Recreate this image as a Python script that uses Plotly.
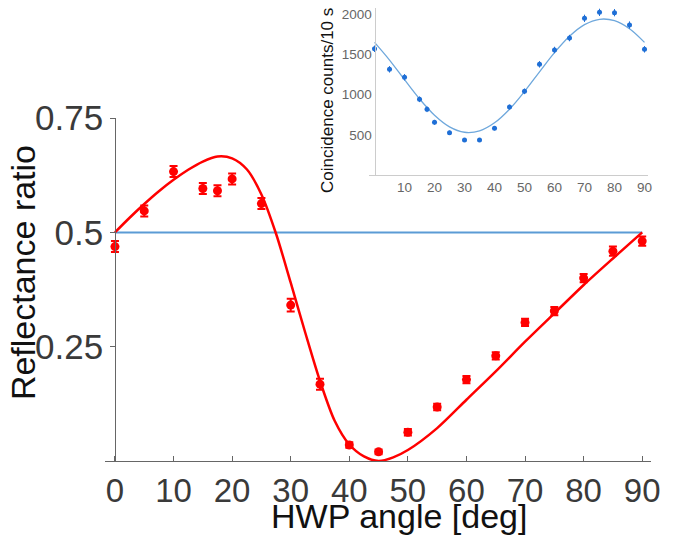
import plotly.graph_objects as go

# datos principales: razón de reflectancia vs ángulo de la HWP
hwp_angle = [0, 5, 10, 15, 17.5, 20, 25, 30, 35, 40, 45, 50, 55, 60, 65, 70, 75, 80, 85, 90]
refl_ratio = [0.469, 0.547, 0.633, 0.596, 0.591, 0.617, 0.563, 0.341, 0.168, 0.035,
              0.020, 0.063, 0.118, 0.178, 0.230, 0.303, 0.328, 0.400, 0.459, 0.481]
refl_err = [0.012, 0.012, 0.012, 0.012, 0.012, 0.012, 0.012, 0.014, 0.012, 0.006,
            0.005, 0.007, 0.007, 0.008, 0.008, 0.008, 0.009, 0.009, 0.010, 0.010]

# curva teórica
fit_angle = [0, 2.5, 5, 7.5, 10, 12.5, 15, 17.5, 20, 22.5, 25, 27.5, 30, 32.5, 35, 37.5,
             40, 42.5, 45, 47.5, 50, 55, 60, 65, 70, 75, 80, 85, 90]
fit_ratio = [0.5, 0.532, 0.562, 0.59, 0.615, 0.637, 0.655, 0.666, 0.662, 0.638, 0.583,
             0.497, 0.39, 0.28, 0.175, 0.088, 0.036, 0.01, 0.0, 0.008, 0.024, 0.072,
             0.134, 0.196, 0.261, 0.323, 0.385, 0.443, 0.5]

ref_angle = [0, 90]
ref_ratio = [0.5, 0.5]

# recuadro: cuentas de coincidencia
ins_angle = [0, 5, 10, 15, 17.5, 20, 25, 30, 35, 40, 45, 50, 55, 60, 65, 70, 75, 80, 85, 90]
ins_counts = [1570, 1315, 1216, 943, 819, 657, 529, 438, 438, 583,
              847, 1042, 1377, 1555, 1703, 1948, 2022, 2018, 1865, 1563]
ins_err = [40, 40, 40, 35, 35, 30, 25, 20, 20, 25, 30, 35, 40, 40, 40, 45, 45, 45, 45, 40]

ins_fit_angle = [0, 5, 10, 15, 20, 25, 30, 35, 40, 45, 50, 55, 60, 65, 70, 75, 80, 85, 90]
ins_fit_counts = [1649, 1430, 1186, 948, 745, 601, 534, 551, 651, 820,
                  1040, 1284, 1522, 1725, 1869, 1936, 1919, 1819, 1649]

RED = "#ff0000"
BLUE = "#1f6fd6"

fig = go.Figure()

fig.add_trace(go.Scatter(x=ref_angle, y=ref_ratio, mode="lines",
                         line=dict(color="#5b9bd5", width=2), hoverinfo="skip"))
fig.add_trace(go.Scatter(x=fit_angle, y=fit_ratio, mode="lines",
                         line=dict(color=RED, width=2.5, shape="spline", smoothing=0.8)))
fig.add_trace(go.Scatter(x=hwp_angle, y=refl_ratio, mode="markers",
                         marker=dict(color=RED, size=9),
                         error_y=dict(type="data", array=refl_err, color=RED,
                                      thickness=2, width=4)))

fig.add_trace(go.Scatter(x=ins_fit_angle, y=ins_fit_counts, mode="lines",
                         line=dict(color="#6fa8dc", width=1.3, shape="spline"),
                         xaxis="x2", yaxis="y2"))
fig.add_trace(go.Scatter(x=ins_angle, y=ins_counts, mode="markers",
                         marker=dict(color=BLUE, size=5),
                         error_y=dict(type="data", array=ins_err, color=BLUE,
                                      thickness=1, width=0),
                         xaxis="x2", yaxis="y2"))

# la página añade 8 px de margen: la figura se hace algo menor para que no salgan barras
fig.update_layout(
    width=667, height=528,
    margin=dict(l=97, r=24, t=0, b=75),
    paper_bgcolor="white", plot_bgcolor="rgba(0,0,0,0)",
    showlegend=False,
    font=dict(family="Liberation Sans, Arial, sans-serif", color="#333333"),
    xaxis=dict(
        domain=[0, 1], range=[-1.7, 91.5], anchor="y", automargin=False,
        tickvals=[0, 10, 20, 30, 40, 50, 60, 70, 80, 90],
        tickfont=dict(size=33, color="#3a3a3a"),
        ticks="inside", ticklen=5, tickcolor="#666666",
        showline=True, linecolor="#666666", linewidth=1,
        showgrid=False, zeroline=False,
    ),
    yaxis=dict(
        domain=[0, 0.757], range=[0, 0.75], anchor="free", position=0.0187,
        automargin=False,
        tickvals=[0.25, 0.5, 0.75], ticktext=["0.25", "0.5", "0.75"],
        tickfont=dict(size=35, color="#3a3a3a"),
        ticks="outside", ticklen=5, tickcolor="#666666",
        showline=True, linecolor="#666666", linewidth=1,
        showgrid=False, zeroline=False,
    ),
    xaxis2=dict(
        domain=[0.4843, 0.9936], range=[-1.7, 91], anchor="y2", automargin=False,
        tickvals=[10, 20, 30, 40, 50, 60, 70, 80, 90],
        tickfont=dict(size=13.5, color="#666666"),
        ticks="", showline=True, linecolor="#cccccc", linewidth=1,
        showgrid=False, zeroline=False,
    ),
    yaxis2=dict(
        domain=[0.6307, 1.0], range=[0, 2076], anchor="free", position=0.4936,
        automargin=False, ticklabeloverflow="allow",
        tickvals=[500, 1000, 1500, 2000],
        tickfont=dict(size=13.5, color="#666666"),
        ticks="", showline=True, linecolor="#cccccc", linewidth=1,
        showgrid=False, zeroline=False,
    ),
    annotations=[
        dict(text="HWP angle [deg]", xref="paper", yref="paper", x=0.538, y=-0.1214,
             xanchor="center", yanchor="middle", showarrow=False,
             font=dict(size=34, color="#111111")),
        dict(text="Reflectance ratio", xref="paper", yref="paper", x=-0.150, y=0.415,
             xanchor="center", yanchor="middle", textangle=-90, showarrow=False,
             font=dict(size=34, color="#111111")),
        dict(text="Coincidence counts/10 s", xref="paper", yref="paper", x=0.4084, y=0.797,
             xanchor="center", yanchor="middle", textangle=-90, showarrow=False,
             font=dict(size=17, color="#111111")),
    ],
)

fig.write_html("out.html")
